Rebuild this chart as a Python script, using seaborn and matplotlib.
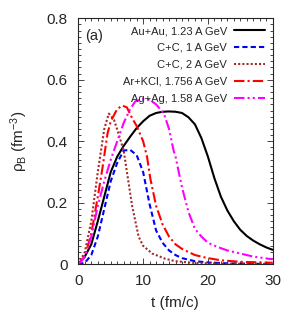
import pandas as pd
import matplotlib
matplotlib.use("Agg")
import matplotlib.pyplot as plt
from matplotlib.ticker import MultipleLocator, FormatStrFormatter
import seaborn as sns

# curves (t in fm/c, rho_B in fm^-3)
t_auau = [0, 1, 2, 3, 4, 5, 6, 7, 8, 9, 10, 11, 12, 13, 14, 15, 16, 17, 18, 19,
          20, 21, 22, 23, 24, 25, 26, 27, 28, 29, 30]
rho_auau = [0, 0.025, 0.065, 0.14, 0.22, 0.30, 0.35, 0.385, 0.415, 0.443, 0.465, 0.483,
            0.492, 0.496, 0.497, 0.496, 0.492, 0.478, 0.455, 0.41, 0.35, 0.28, 0.22,
            0.175, 0.14, 0.112, 0.092, 0.077, 0.065, 0.055, 0.047]

t_cc1 = [0, 1, 2, 3, 4, 5, 6, 7, 8, 9, 10, 11, 12, 13, 14, 15, 16, 18, 20, 23, 26, 30]
rho_cc1 = [0, 0.005, 0.03, 0.09, 0.18, 0.27, 0.33, 0.37, 0.372, 0.355, 0.30, 0.195,
           0.11, 0.07, 0.045, 0.03, 0.02, 0.01, 0.006, 0.003, 0.002, 0.001]

t_cc2 = [0, 1, 2, 3, 4, 4.7, 5.5, 6.2, 7, 7.5, 8.3, 9.3, 10, 11.4, 13.4, 15, 18, 22, 30]
rho_cc2 = [0, 0.04, 0.14, 0.30, 0.44, 0.49, 0.47, 0.425, 0.37, 0.30, 0.19, 0.09, 0.06,
           0.035, 0.018, 0.01, 0.004, 0.002, 0.001]

t_arkcl = [0, 1, 2, 3, 3.7, 4.5, 5, 6, 6.8, 7.5, 8.3, 9, 10, 10.6, 11.1, 12, 13, 14, 15,
           16, 18, 20, 22, 25, 30]
rho_arkcl = [0, 0.025, 0.10, 0.22, 0.31, 0.425, 0.465, 0.505, 0.516, 0.51, 0.475, 0.45,
             0.40, 0.35, 0.28, 0.19, 0.13, 0.09, 0.065, 0.05, 0.03, 0.02, 0.013, 0.008,
             0.005]

t_agag = [0, 1, 2, 3, 4, 5, 6, 7, 8, 8.8, 10, 11, 12, 13.2, 14, 14.7, 15, 16, 17, 18,
          19, 20, 21.4, 23, 25, 27, 30]
rho_agag = [0, 0.025, 0.09, 0.19, 0.27, 0.34, 0.40, 0.46, 0.505, 0.53, 0.537, 0.535,
            0.52, 0.49, 0.44, 0.37, 0.35, 0.25, 0.17, 0.115, 0.09, 0.07, 0.057, 0.045,
            0.035, 0.025, 0.016]

labels = ["Au+Au, 1.23 A GeV", "C+C, 1 A GeV", "C+C, 2 A GeV",
          "Ar+KCl, 1.756 A GeV", "Ag+Ag, 1.58 A GeV"]
colors = ["black", "#0000ff", "#a52a2a", "#ff0000", "#ff00ff"]
dash_styles = ["", (2.5, 1.5), (1, 1), (5, 1.5, 1, 1.5), (5, 1.5, 1, 1.5, 1, 1.5)]

series = [(t_auau, rho_auau), (t_cc1, rho_cc1), (t_cc2, rho_cc2),
          (t_arkcl, rho_arkcl), (t_agag, rho_agag)]
frames = []
for lab, (t, r) in zip(labels, series):
    frames.append(pd.DataFrame({"t": t, "rho": r, "system": lab}))
df = pd.concat(frames, ignore_index=True)

sns.set_style("ticks")
plt.rcParams["font.family"] = ["Liberation Sans", "DejaVu Sans"]
plt.rcParams["mathtext.fontset"] = "custom"
plt.rcParams["mathtext.rm"] = "Liberation Sans"
plt.rcParams["mathtext.default"] = "regular"

fig = plt.figure(figsize=(3, 3.15), dpi=100)
ax = fig.add_axes([0.259, 0.161, 0.65, 0.781])

sns.lineplot(data=df, x="t", y="rho", hue="system", style="system",
             hue_order=labels, style_order=labels,
             palette=dict(zip(labels, colors)), dashes=dict(zip(labels, dash_styles)),
             linewidth=1.5, errorbar=None, sort=False, legend=False, ax=ax)

ax.set_xlim(-0.1, 30)
ax.set_ylim(0, 0.8)
ax.xaxis.set_major_locator(MultipleLocator(10))
ax.xaxis.set_minor_locator(MultipleLocator(1))
ax.yaxis.set_major_locator(MultipleLocator(0.2))
ax.yaxis.set_minor_locator(MultipleLocator(0.02))
ax.yaxis.set_major_formatter(FormatStrFormatter("%g"))
ax.tick_params(which="both", direction="in", top=True, right=True, labelsize=11, width=0.6)
ax.tick_params(which="major", length=4, pad=7)
ax.tick_params(which="minor", length=2)
for s in ax.spines.values():
    s.set_linewidth(0.8)

ax.set_xlabel("t (fm/c)", fontsize=11, labelpad=6)
ax.set_ylabel("ρ$_B$ (fm$^{-3}$)", fontsize=11, labelpad=12)
ax.text(0.04, 0.955, "(a)", transform=ax.transAxes, fontsize=10.5, va="top")

ax.legend(ax.lines, labels, loc="upper right", frameon=False, markerfirst=False,
          fontsize=8, handlelength=2.8, labelspacing=0.62, borderaxespad=0.3,
          handletextpad=0.6)

fig.savefig("out.png", dpi=100)
